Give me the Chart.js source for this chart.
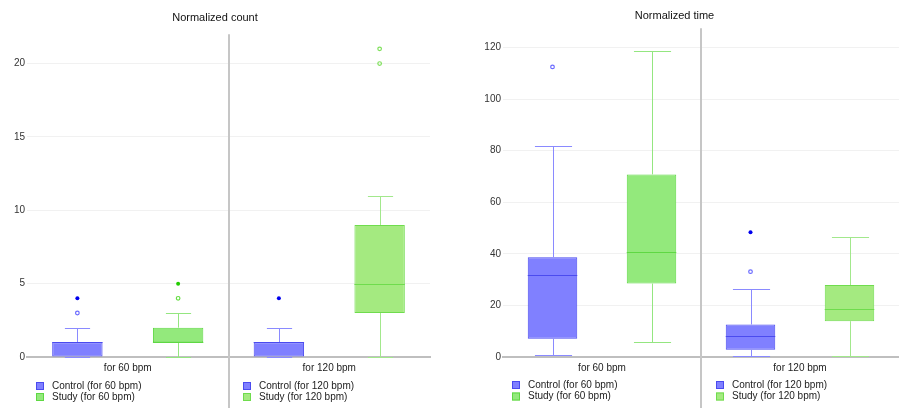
<!DOCTYPE html>
<html>
<head>
<meta charset="utf-8">
<script src="https://cdn.jsdelivr.net/npm/chart.js@4.4.1/dist/chart.umd.min.js"></script>
<style>
  html, body { margin: 0; padding: 0; background: #fff; }
  #wrap { position: relative; width: 899px; height: 408px; }
  .pane { position: absolute; top: 0; height: 408px; }
  #countPane { left: 0; width: 450px; }
  #timePane { left: 450px; width: 449px; }
</style>
</head>
<body>
<div id="wrap">
  <div class="pane" id="countPane"><canvas id="countChart"></canvas></div>
  <div class="pane" id="timePane"><canvas id="timeChart"></canvas></div>
</div>
<script>
// Categories and groups
const categories = ['for 60 bpm', 'for 120 bpm'];
const groupNames = ['Control', 'Study'];

// Normalized count — five-number summaries per category
const countControlMin = [0, 0];
const countControlQ1 = [0, 0];
const countControlMedian = [1, 1];
const countControlQ3 = [1, 1];
const countControlMax = [2, 2];
const countControlOutliers = [[3], []];
const countControlExtremes = [[4], [4]];

const countStudyMin = [0, 0];
const countStudyQ1 = [1, 3];
const countStudyMedian = [1, 5];
const countStudyQ3 = [2, 9];
const countStudyMax = [3, 11];
const countStudyOutliers = [[4], [20, 21]];
const countStudyExtremes = [[5], []];

const countTicks = [0, 5, 10, 15, 20];

// Normalized time — five-number summaries per category
const timeControlMin = [0.9, 0.2];
const timeControlQ1 = [7.1, 2.8];
const timeControlMedian = [31.7, 8.1];
const timeControlQ3 = [38.7, 12.6];
const timeControlMax = [81.9, 26.2];
const timeControlOutliers = [[112.5], [33.1]];
const timeControlExtremes = [[], [48.4]];

const timeStudyMin = [5.8, 0.2];
const timeStudyQ1 = [28.5, 13.9];
const timeStudyMedian = [40.6, 18.6];
const timeStudyQ3 = [70.8, 27.9];
const timeStudyMax = [118.8, 46.7];
const timeStudyOutliers = [[], []];
const timeStudyExtremes = [[], []];

const timeTicks = [0, 20, 40, 60, 80, 100, 120];

// Styling per group, per category
const palette = {
  Control: [
    { fill: '#8080ff', border: '#4b4bef', whisker: '#8a8aff', open: '#6a6aff', dot: '#0000ee' },
    { fill: '#8080ff', border: '#4b4bef', whisker: '#8a8aff', open: '#6a6aff', dot: '#0000ee' }
  ],
  Study: [
    { fill: '#93e97c', border: '#5ed843', whisker: '#94e680', open: '#66dd44', dot: '#22cc00' },
    { fill: '#a4ea80', border: '#6fdc4d', whisker: '#a2e88c', open: '#7ee05a', dot: '#22cc00' }
  ]
};

const FONT = "'Liberation Sans', Arial, sans-serif";
const SMALL = 10;

function stat(min, q1, med, q3, max, outliers, extremes) {
  return { min, q1, med, q3, max, outliers, extremes };
}

const crisp = v => Math.round(v) + 0.5;

// Whiskers, medians and outliers drawn on top of the floating bars
const boxplotPlugin = {
  id: 'boxplot',
  afterDatasetsDraw(chart, args, opts) {
    const ctx = chart.ctx;
    const y = chart.scales.y;
    opts.stats.forEach((s, di) => {
      const meta = chart.getDatasetMeta(di);
      const cols = palette[groupNames[di]];
      meta.data.forEach((bar, i) => {
        const col = cols[i];
        const cx = crisp(bar.x);
        const w = bar.width;
        const cap = w * opts.capRatio;
        const yMin = crisp(y.getPixelForValue(s.min[i]));
        const yMax = crisp(y.getPixelForValue(s.max[i]));
        const yQ1 = y.getPixelForValue(s.q1[i]);
        const yQ3 = y.getPixelForValue(s.q3[i]);
        const yMed = crisp(y.getPixelForValue(s.med[i]));
        ctx.save();
        ctx.lineWidth = 1;
        ctx.strokeStyle = col.whisker;
        ctx.beginPath();
        ctx.moveTo(cx, yQ3); ctx.lineTo(cx, yMax);
        ctx.moveTo(cx - cap / 2, yMax); ctx.lineTo(cx + cap / 2, yMax);
        ctx.moveTo(cx, yQ1); ctx.lineTo(cx, yMin);
        ctx.moveTo(cx - cap / 2, yMin); ctx.lineTo(cx + cap / 2, yMin);
        ctx.stroke();
        // median
        ctx.strokeStyle = col.border;
        ctx.beginPath();
        ctx.moveTo(bar.x - w / 2, yMed); ctx.lineTo(bar.x + w / 2, yMed);
        ctx.stroke();
        // mild outliers: open circles
        ctx.lineWidth = 1.2;
        ctx.strokeStyle = col.open;
        s.outliers[i].forEach(v => {
          ctx.beginPath();
          ctx.arc(bar.x, y.getPixelForValue(v), 1.8, 0, Math.PI * 2);
          ctx.stroke();
        });
        // extreme outliers: filled dots
        ctx.fillStyle = col.dot;
        s.extremes[i].forEach(v => {
          ctx.beginPath();
          ctx.arc(bar.x, y.getPixelForValue(v), 2, 0, Math.PI * 2);
          ctx.fill();
        });
        ctx.restore();
      });
    });
  }
};

// Vertical separator between categories, running down through the legends
const separatorPlugin = {
  id: 'separator',
  afterDatasetsDraw(chart) {
    const x = chart.scales.x;
    const ctx = chart.ctx;
    const px = Math.round((x.getPixelForValue(0) + x.getPixelForValue(1)) / 2);
    ctx.save();
    ctx.strokeStyle = '#c6c6c6';
    ctx.lineWidth = 2;
    ctx.beginPath();
    ctx.moveTo(px, chart.chartArea.top);
    ctx.lineTo(px, chart.height);
    ctx.stroke();
    ctx.restore();
  }
};

// One small legend under each category
const categoryLegendPlugin = {
  id: 'categoryLegend',
  afterDraw(chart, args, opts) {
    const x = chart.scales.x;
    const ctx = chart.ctx;
    const slot = x.width / categories.length;
    ctx.save();
    ctx.font = `${opts.fontSize}px ${FONT}`;
    ctx.textBaseline = 'middle';
    categories.forEach((cat, i) => {
      const left = Math.round(x.getPixelForValue(i) - slot / 2 + opts.offsets[i]);
      groupNames.forEach((g, gi) => {
        const col = palette[g][i];
        const cy = opts.rows[gi];
        ctx.fillStyle = col.fill;
        ctx.fillRect(left, cy - 4, 8, 8);
        ctx.strokeStyle = col.border;
        ctx.lineWidth = 1;
        ctx.strokeRect(left + 0.5, cy - 3.5, 7, 7);
        ctx.fillStyle = '#222';
        ctx.fillText(`${g} (${cat})`, left + 16, cy);
      });
    });
    ctx.restore();
  }
};

function makeChart(id, cfg) {
  const datasets = groupNames.map((g, gi) => ({
    label: g,
    data: categories.map((_, i) => [cfg.stats[gi].q1[i], cfg.stats[gi].q3[i]]),
    backgroundColor: palette[g].map(c => c.fill),
    borderColor: palette[g].map(c => c.border),
    borderWidth: 1,
    borderSkipped: false,
    categoryPercentage: 1,
    barPercentage: 0.5
  }));
  return new Chart(document.getElementById(id), {
    type: 'bar',
    data: { labels: categories, datasets },
    plugins: [boxplotPlugin, separatorPlugin, categoryLegendPlugin],
    options: {
      responsive: true,
      maintainAspectRatio: false,
      animation: false,
      layout: { padding: { left: 0, right: cfg.padRight, top: 0, bottom: 0 } },
      plugins: {
        legend: { display: false },
        tooltip: { enabled: false },
        title: {
          display: true,
          text: cfg.title,
          color: '#111',
          font: { family: FONT, size: 11, weight: 'normal' },
          padding: cfg.titlePadding
        },
        boxplot: { stats: cfg.stats, capRatio: cfg.capRatio },
        categoryLegend: { rows: cfg.legendRows, offsets: cfg.legendOffsets, fontSize: SMALL }
      },
      scales: {
        x: {
          grid: { display: false, drawTicks: false },
          border: { display: true, color: '#bfbfbf', width: 2 },
          ticks: { color: '#222', font: { family: FONT, size: SMALL }, padding: 5 },
          afterFit: s => { s.height = cfg.xHeight; }
        },
        y: {
          min: 0,
          max: cfg.max,
          afterBuildTicks: s => { s.ticks = cfg.ticks.map(v => ({ value: v })); },
          grid: { color: '#f1f1f1', lineWidth: 1, drawTicks: false },
          border: { display: false },
          ticks: { color: '#333', font: { family: FONT, size: SMALL }, padding: 2 },
          afterFit: s => { s.width = cfg.yWidth; }
        }
      }
    }
  });
}

makeChart('countChart', {
  title: 'Normalized count',
  titlePadding: { top: 11, bottom: 10 },
  max: 22,
  ticks: countTicks,
  capRatio: 0.5,
  padRight: 20,
  yWidth: 27,
  xHeight: 51,
  legendRows: [386, 397],
  legendOffsets: [9, 14],
  stats: [
    stat(countControlMin, countControlQ1, countControlMedian, countControlQ3, countControlMax, countControlOutliers, countControlExtremes),
    stat(countStudyMin, countStudyQ1, countStudyMedian, countStudyQ3, countStudyMax, countStudyOutliers, countStudyExtremes)
  ]
});

makeChart('timeChart', {
  title: 'Normalized time',
  titlePadding: { top: 9, bottom: 6 },
  max: 127.5,
  ticks: timeTicks,
  capRatio: 0.75,
  padRight: 0,
  yWidth: 53,
  xHeight: 51,
  legendRows: [385, 396.5],
  legendOffsets: [9, 15],
  stats: [
    stat(timeControlMin, timeControlQ1, timeControlMedian, timeControlQ3, timeControlMax, timeControlOutliers, timeControlExtremes),
    stat(timeStudyMin, timeStudyQ1, timeStudyMedian, timeStudyQ3, timeStudyMax, timeStudyOutliers, timeStudyExtremes)
  ]
});
</script>
</body>
</html>
